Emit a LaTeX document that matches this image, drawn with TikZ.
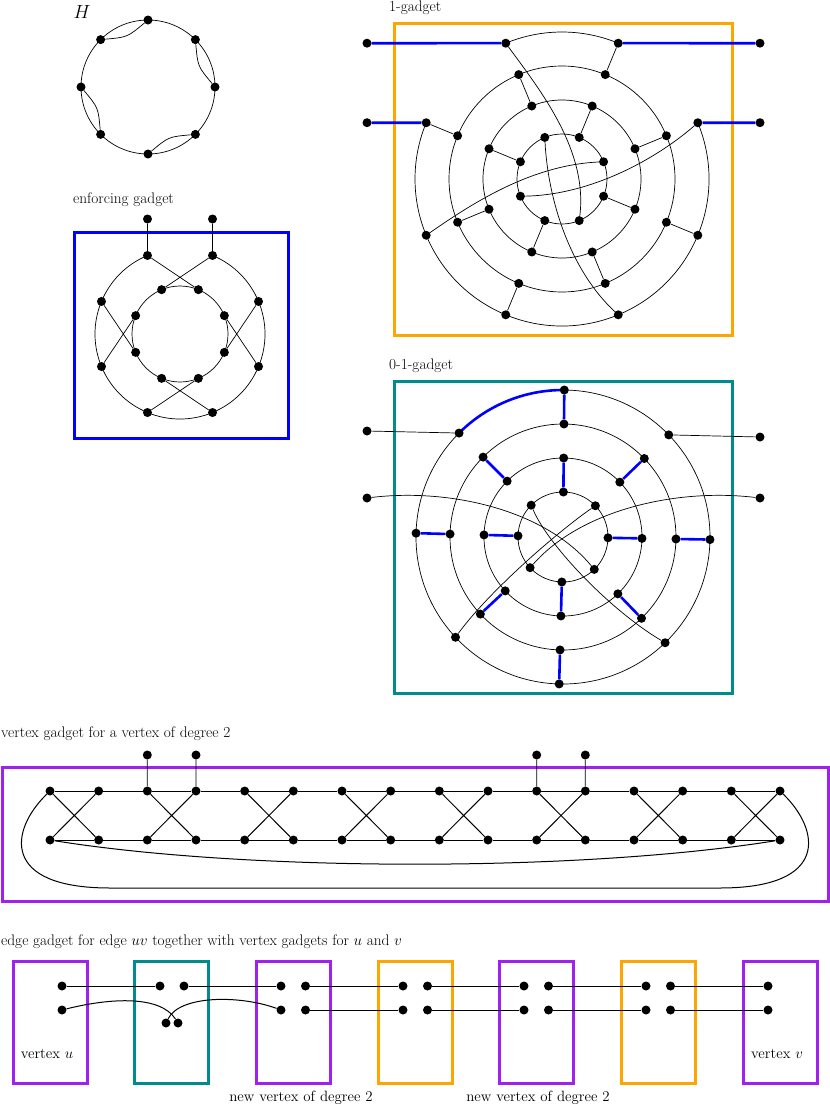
\RequirePackage{fix-cm}
\documentclass[tikz,border=0pt]{standalone}
\usetikzlibrary{calc}
\definecolor{gblue}{RGB}{0,0,255}
\definecolor{gorange}{RGB}{255,165,0}
\definecolor{gteal}{RGB}{0,140,140}
\definecolor{gpurple}{RGB}{160,32,240}
\pgfdeclarelayer{boxes}
\pgfdeclarelayer{edges}
\pgfsetlayers{boxes,edges,main}
\begin{document}
\begin{tikzpicture}[x=1pt,y=-1pt,
  dot/.style={circle,fill=black,inner sep=0pt,minimum size=9pt},
  ge/.style={line width=0.7pt},
  be/.style={line width=2.6pt,draw=gblue},
  ve/.style={line width=1pt},
  frame/.style={line width=3pt},
  lab/.style={font=\fontsize{14.9}{17}\selectfont,inner sep=0pt},
  hlab/.style={font=\fontsize{15.3}{18}\selectfont,inner sep=0pt}]
\useasboundingbox (0,0) rectangle (830,1106);

% ---------------- H ----------------
\node[font=\fontsize{19}{22}\selectfont,inner sep=0pt] (Hlab) at (82,12) {$H$};
\coordinate (hc) at (148,87);
\foreach \a [count=\i from 0] in {-90,-45,0,45,90,135,180,225}
  {\path (hc) ++(\a:67) node[dot] (h\i) {};}

% ---------------- enforcing gadget ----------------
\node[hlab,anchor=base west] (enflab) at (73,203) {enforcing gadget};
\coordinate (ec) at (180,334);
\foreach \a [count=\i] in {-112.5,-67.5,-22.5,22.5,67.5,112.5,157.5,202.5}
  {\path (ec) ++(\a:85) node[dot] (E\i) {};
   \path (ec) ++(\a:48) node[dot] (I\i) {};}
\node[dot] (ET1) at (147.5,219) {};
\node[dot] (ET2) at (212.5,219) {};

% ---------------- 1-gadget ----------------
\node[hlab,anchor=base west] (onelab) at (389,11) {1-gadget};
\coordinate (oc) at (562,179);
\foreach \a [count=\i] in {-112.5,-67.5,-22.5,22.5,67.5,112.5,157.5,202.5}
  {\path (oc) ++(\a:147) node[dot] (A\i) {};
   \path (oc) ++(\a:113) node[dot] (B\i) {};
   \path (oc) ++(\a:79) node[dot] (C\i) {};
   \path (oc) ++(\a:45) node[dot] (D\i) {};}
\node[dot] (T1) at (367,43.2) {};
\node[dot] (T2) at (760,43.2) {};
\node[dot] (T3) at (367,122.7) {};
\node[dot] (T4) at (760,122.7) {};

% ---------------- 0-1-gadget ----------------
\node[hlab,anchor=base west] (zolab) at (389,369) {0-1-gadget};
\coordinate (zc) at (563,537);
\foreach \a [count=\i] in {-89.5,-44,1,46,91.5,137,181.5,225}
  {\path (zc) ++(\a:147) node[dot] (Za\i) {};
   \path (zc) ++(\a:113) node[dot] (Zb\i) {};
   \path (zc) ++(\a:79) node[dot] (Zc\i) {};
   \path (zc) ++(\a:45) node[dot] (Zd\i) {};}
\node[dot] (ZL1) at (367,431) {};
\node[dot] (ZR1) at (760,437) {};
\node[dot] (ZL2) at (367,498) {};
\node[dot] (ZR2) at (760,498) {};

% ---------------- vertex gadget ----------------
\node[hlab,anchor=base west] (vglab) at (1,737) {vertex gadget for a vertex of degree 2};
\foreach \i in {0,...,15}
  {\pgfmathsetmacro\xx{50+48.667*\i}
   \node[dot] (vt\i) at (\xx,791) {};
   \node[dot] (vb\i) at (\xx,840) {};}
\node[dot] (vu2) at (147.3,755) {};
\node[dot] (vu3) at (196,755) {};
\node[dot] (vu10) at (536.7,755) {};
\node[dot] (vu11) at (585.3,755) {};

% ---------------- edge gadget ----------------
\node[hlab,anchor=base west] (eglab) at (1,945) {edge gadget for edge $uv$ together with vertex gadgets for $u$ and $v$};
\node[dot] (u1) at (62,986) {};
\node[dot] (u2) at (62,1010) {};
\node[dot] (e1) at (160,986) {};
\node[dot] (e2) at (184,986) {};
\node[dot] (e3) at (166,1023) {};
\node[dot] (e4) at (178,1023) {};
\foreach \x/\k in {281/3,403/4,524/5,646/6}
  {\node[dot] (g\k a) at (\x,986) {};
   \node[dot] (g\k b) at (\x+24.5,986) {};
   \node[dot] (g\k c) at (\x,1010) {};
   \node[dot] (g\k d) at (\x+24.5,1010) {};}
\node[dot] (v1) at (768,986) {};
\node[dot] (v2) at (768,1010) {};
\node[lab,anchor=base] (lu) at (47,1058) {vertex $u$};
\node[lab,anchor=base] (lv) at (777,1058) {vertex $v$};
\node[lab,anchor=base] (ln1) at (301,1101) {new vertex of degree 2};
\node[lab,anchor=base] (ln2) at (538,1101) {new vertex of degree 2};

% ================= boxes =================
\begin{pgfonlayer}{boxes}
\draw[frame,gblue] (74,232) rectangle (288,438);
\draw[frame,gorange] (394,23) rectangle (732,335);
\draw[frame,gteal] (394,381) rectangle (732,693);
\draw[frame,gpurple] (2,767) rectangle (828,901);
\foreach \l/\c in {13/gpurple,134.7/gteal,256.3/gpurple,378/gorange,499.7/gpurple,621.3/gorange,743/gpurple}
  {\draw[frame,\c] (\l,961) rectangle (\l+74,1083);}
\end{pgfonlayer}

% ================= edges =================
\begin{pgfonlayer}{edges}
% H
\draw[ge] (hc) circle[radius=67];
\draw[ge] (h7) .. controls (127.4,37.2) .. (h0);
\draw[ge] (h1) .. controls (197.8,66.4) .. (h2);
\draw[ge] (h6) .. controls (98.2,107.6) .. (h5);
\draw[ge] (h4) .. controls (168.6,136.8) .. (h3);
% enforcing
\draw[ge] (E2.center) arc[start angle=-67.5,end angle=247.5,radius=85];
\draw[ge] (ec) circle[radius=48];
\draw[ge] (E1)--(I2) (E2)--(I1) (E3)--(I4) (E4)--(I3)
          (E5)--(I6) (E6)--(I5) (E7)--(I8) (E8)--(I7)
          (ET1)--(E1) (ET2)--(E2);
% 1-gadget
\draw[ge] (A1.center) arc[start angle=-112.5,end angle=-67.5,radius=147];
\draw[ge] (A3.center) arc[start angle=-22.5,end angle=202.5,radius=147];
\draw[ge] (oc) circle[radius=113] (oc) circle[radius=79] (oc) circle[radius=45];
\draw[ge] (A2)--(B2) (B1)--(C1) (A8)--(B8) (C2)--(D2) (B3)--(C3) (C8)--(D8)
          (D4)--(C4) (C7)--(B7) (B4)--(A4) (D6)--(C6) (C5)--(B5) (B6)--(A6);
\draw[ge] (A1) .. controls (540,90) and (588,150) .. (D5);
\draw[ge] (D1) .. controls (548,200) and (570,270) .. (A5);
\draw[ge] (A7) .. controls (470,205) and (530,165) .. (D3);
\draw[ge] (A3) .. controls (655,160) and (590,195) .. (D7);
\draw[be] (T1)--(A1) (A2)--(T2) (T3)--(A8) (A3)--(T4);
% 0-1-gadget
\draw[ge] (zc) circle[radius=147] (zc) circle[radius=113] (zc) circle[radius=79] (zc) circle[radius=45];
\draw[be] (Za8.center) arc[start angle=225,end angle=270.5,radius=147];
\draw[be] (Za1)--(Zb1) (Zb8)--(Zc8) (Zb2)--(Zc2) (Zc1)--(Zd1) (Za7)--(Zb7) (Zc7)--(Zd7)
          (Zd3)--(Zc3) (Zb3)--(Za3) (Zc6)--(Zb6) (Zd5)--(Zc5) (Zc4)--(Zb4) (Zb5)--(Za5);
\draw[ge] (ZL1)--(Za8) (Za2)--(ZR1);
\draw[ge] (ZL2) .. controls (450,488) and (545,510) .. (Zd4);
\draw[ge] (ZR2) .. controls (676,488) and (581,510) .. (Zd6);
\draw[ge] (Zd8) .. controls (548,545) and (610,610) .. (Za4);
\draw[ge] (Zd2) .. controls (560,530) and (490,590) .. (Za6);
% vertex gadget
\foreach \i [evaluate=\i as \j using int(\i+1)] in {0,...,14}
  {\draw[ve] (vt\i)--(vt\j) (vb\i)--(vb\j);}
\foreach \i [evaluate=\i as \j using int(\i+1)] in {0,2,...,14}
  {\draw[ve] (vt\i)--(vb\j) (vb\i)--(vt\j);}
\draw[ge] (vu2)--(vt2) (vu3)--(vt3) (vu10)--(vt10) (vu11)--(vt11);
\draw[ve] (vt0) .. controls (10,830) and (0,888) .. (110,888) -- (720,888)
          .. controls (830,888) and (820,830) .. (vt15);
\draw[ve] (vb0) .. controls (250,872) and (580,872) .. (vb15);
% edge gadget
\draw[ve] (u1)--(e1) (e2)--(g3a) (g3b)--(g4a) (g4b)--(g5a) (g5b)--(g6a) (g6b)--(v1);
\draw[ve] (g3d)--(g4c) (g4d)--(g5c) (g5d)--(g6c) (g6d)--(v2);
\draw[ve] (u2) .. controls (110,998) and (160,995) .. (e4);
\draw[ve] (e3) .. controls (180,995) and (240,995) .. (g3c);
\end{pgfonlayer}
\end{tikzpicture}
\end{document}
